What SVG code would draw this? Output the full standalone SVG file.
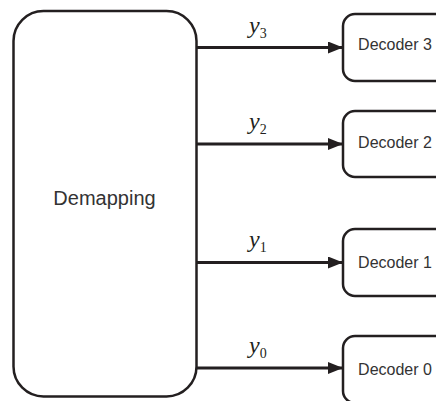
<svg xmlns="http://www.w3.org/2000/svg" width="436" height="401" viewBox="0 0 436 401">
  <defs>
    <marker id="arrow" markerWidth="15" markerHeight="12" refX="15" refY="6" orient="auto" markerUnits="userSpaceOnUse">
      <path d="M0,0 L15,6 L0,12 Z" fill="#231f20"/>
    </marker>
    <style>
      .box { fill: #ffffff; stroke: #231f20; stroke-width: 2.5; }
      .label { font-family: "Liberation Sans", Arial, sans-serif; fill: #333333; text-anchor: middle; }
      .edge { stroke: #231f20; stroke-width: 3; fill: none; marker-end: url(#arrow); }
      .math { font-family: "Liberation Serif", "Times New Roman", serif; fill: #231f20; }
    </style>
  </defs>

  <rect width="436" height="401" fill="#ffffff"/>

  <g id="connectors">
    <line class="edge" x1="197" y1="47.5" x2="343" y2="47.5"/>
    <line class="edge" x1="197" y1="144" x2="343" y2="144"/>
    <line class="edge" x1="197" y1="262.5" x2="343" y2="262.5"/>
    <line class="edge" x1="197" y1="368" x2="343" y2="368"/>
    <text class="math" x="249" y="33"><tspan font-style="italic" font-size="24">y</tspan><tspan font-size="14" dy="5">3</tspan></text>
    <text class="math" x="249" y="129"><tspan font-style="italic" font-size="24">y</tspan><tspan font-size="14" dy="5">2</tspan></text>
    <text class="math" x="249" y="247"><tspan font-style="italic" font-size="24">y</tspan><tspan font-size="14" dy="5">1</tspan></text>
    <text class="math" x="249" y="353"><tspan font-style="italic" font-size="24">y</tspan><tspan font-size="14" dy="5">0</tspan></text>
  </g>

  <g id="demapping">
    <rect class="box" x="13.5" y="11" width="183" height="385.5" rx="30" ry="30"/>
    <text class="label" x="104.5" y="205" font-size="20">Demapping</text>
  </g>

  <g id="decoder3">
    <rect class="box" x="343" y="14" width="110" height="67" rx="12" ry="12"/>
    <text class="label" x="395" y="50" font-size="16">Decoder 3</text>
  </g>
  <g id="decoder2">
    <rect class="box" x="343" y="111" width="110" height="66" rx="12" ry="12"/>
    <text class="label" x="395" y="148" font-size="16">Decoder 2</text>
  </g>
  <g id="decoder1">
    <rect class="box" x="343" y="229" width="110" height="67" rx="12" ry="12"/>
    <text class="label" x="395" y="267.5" font-size="16">Decoder 1</text>
  </g>
  <g id="decoder0">
    <rect class="box" x="343" y="336" width="110" height="67" rx="12" ry="12"/>
    <text class="label" x="395" y="375" font-size="16">Decoder 0</text>
  </g>
</svg>
